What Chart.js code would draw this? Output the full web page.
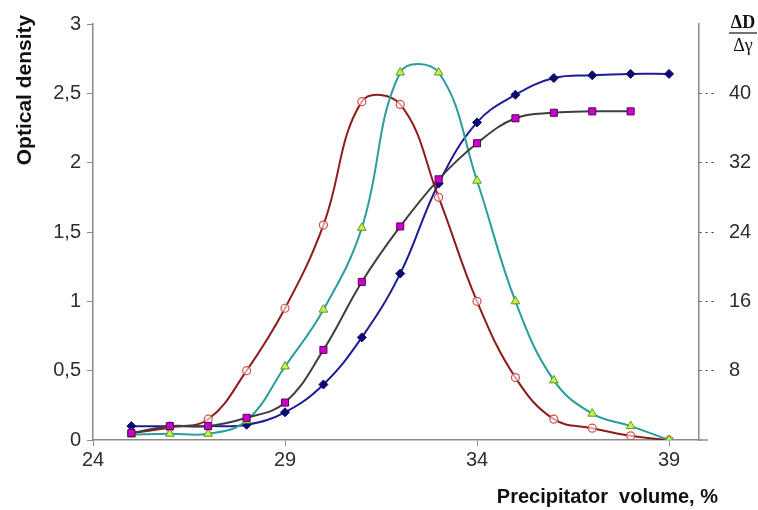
<!DOCTYPE html>
<html>
<head>
<meta charset="utf-8">
<script src="https://cdn.jsdelivr.net/npm/chart.js@4.4.1/dist/chart.umd.min.js"></script>
<style>
html,body{margin:0;padding:0;background:#fff;}
#wrap{width:758px;height:510px;position:relative;}
</style>
</head>
<body>
<div id="wrap"><canvas id="c" width="758" height="510"></canvas></div>
<script>
// Precipitator volume, %
const volumes = [25, 26, 27, 28, 29, 30, 31, 32, 33, 34, 35, 36, 37, 38, 39];
// Optical density series
const blueDiamond = [0.10, 0.10, 0.10, 0.11, 0.20, 0.40, 0.74, 1.20, 1.85, 2.29, 2.49, 2.61, 2.63, 2.64, 2.64];
const magentaSquare = [0.05, 0.10, 0.10, 0.16, 0.27, 0.65, 1.14, 1.54, 1.88, 2.14, 2.32, 2.36, 2.37, 2.37, null];
const redCircle = [0.05, 0.09, 0.15, 0.50, 0.95, 1.55, 2.44, 2.42, 1.75, 1.00, 0.45, 0.15, 0.085, 0.03, 0.00];
const greenTriangle = [0.04, 0.045, 0.045, 0.14, 0.53, 0.94, 1.53, 2.65, 2.65, 1.87, 1.00, 0.43, 0.19, 0.10, 0.00];
// Tick labels
const xTicks = [24, 29, 34, 39];
const yTickValues = [0, 0.5, 1, 1.5, 2, 2.5, 3];
const yTickLabels = ['0', '0,5', '1', '1,5', '2', '2,5', '3'];
const y2TickValues = [8, 16, 24, 32, 40];
const y2TickLabels = ['8', '16', '24', '32', '40'];
// Texts
const xTitle = 'Precipitator  volume, %';
const yTitle = 'Optical density';

const toPts = arr => volumes.map((v, i) => ({x: v, y: arr[i]})).filter(p => p.y !== null);

const axisColor = '#8a8a8a';
const tickFont = {family: 'Liberation Sans, Arial, sans-serif', size: 20};
const textColor = '#2e2e2e';

const extras = {
  id: 'extras',
  afterDraw(chart) {
    const ctx = chart.ctx;
    const a = chart.chartArea;
    ctx.save();
    // extension of x axis line beyond right axis
    ctx.strokeStyle = axisColor;
    ctx.lineWidth = 1.5;
    ctx.beginPath();
    ctx.moveTo(a.right, a.bottom);
    ctx.lineTo(a.right + 9, a.bottom);
    ctx.stroke();
    // axis titles
    ctx.fillStyle = '#111';
    ctx.font = 'bold 20px "Liberation Sans", Arial, sans-serif';
    ctx.textAlign = 'right';
    ctx.textBaseline = 'alphabetic';
    ctx.fillText(xTitle, 718, 503);
    ctx.save();
    ctx.translate(31, 90);
    ctx.rotate(-Math.PI / 2);
    ctx.textAlign = 'center';
    ctx.font = 'bold 21px "Liberation Sans", Arial, sans-serif';
    ctx.fillText(yTitle, 0, 0);
    ctx.restore();
    // right axis title ΔD / Δγ
    ctx.fillStyle = '#111';
    ctx.textAlign = 'center';
    ctx.font = 'bold 18px "Liberation Serif", "DejaVu Serif", serif';
    ctx.fillText('\u0394D', 743, 28);
    ctx.font = '18px "Liberation Serif", "DejaVu Serif", serif';
    ctx.fillText('\u0394\u03b3', 743, 51);
    ctx.strokeStyle = '#111';
    ctx.lineWidth = 1.2;
    ctx.beginPath();
    ctx.moveTo(729, 33);
    ctx.lineTo(757, 33);
    ctx.stroke();
    ctx.restore();
  }
};

new Chart(document.getElementById('c'), {
  type: 'line',
  data: {
    datasets: [
      {
        label: 'magenta', data: toPts(magentaSquare), order: 0,
        borderColor: '#3f3f3f', borderWidth: 2,
        pointStyle: 'rect', pointRadius: 5, pointBackgroundColor: '#cc00cc',
        pointBorderColor: '#5a005a', pointBorderWidth: 1, tension: 0.4
      },
      {
        label: 'green', data: toPts(greenTriangle), order: 1,
        borderColor: '#2a9d9d', borderWidth: 2,
        pointStyle: 'triangle', pointRadius: 5, pointBackgroundColor: '#c8ec5a',
        pointBorderColor: '#5c9e10', pointBorderWidth: 1, tension: 0.4
      },
      {
        label: 'red', data: toPts(redCircle), order: 2,
        borderColor: '#8e1c1c', borderWidth: 2,
        pointStyle: 'circle', pointRadius: 4, pointBackgroundColor: 'rgba(255,255,255,0.6)',
        pointBorderColor: '#d0504a', pointBorderWidth: 1.2, tension: 0.4
      },
      {
        label: 'blue', data: toPts(blueDiamond), order: 3,
        borderColor: '#1c1c96', borderWidth: 2,
        pointStyle: 'rectRot', pointRadius: 4.5, pointBackgroundColor: '#0a0a70',
        pointBorderColor: '#0a0a70', pointBorderWidth: 1, tension: 0.4
      }
    ]
  },
  options: {
    responsive: false,
    animation: false,
    events: [],
    layout: {padding: {top: 24, left: 0, right: 0, bottom: 0}},
    plugins: {legend: {display: false}, tooltip: {enabled: false}},
    scales: {
      x: {
        type: 'linear', min: 24, max: 39.78,
        afterBuildTicks: s => { s.ticks = xTicks.map(v => ({value: v})); },
        afterFit: s => { s.height = 70; },
        border: {display: true, color: axisColor, width: 1.5},
        grid: {display: true, drawOnChartArea: false, drawTicks: true, tickLength: 6, color: axisColor},
        ticks: {font: tickFont, color: textColor, padding: 2, maxRotation: 0, autoSkip: false}
      },
      y: {
        type: 'linear', position: 'left', min: 0, max: 3,
        afterBuildTicks: s => { s.ticks = yTickValues.map(v => ({value: v})); },
        afterFit: s => { s.width = 93; },
        border: {display: true, color: axisColor, width: 1.5},
        grid: {display: true, drawOnChartArea: false, drawTicks: true, tickLength: 6, color: axisColor},
        ticks: {font: tickFont, color: textColor, padding: 6,
          callback: (v) => { const i = yTickValues.indexOf(v); return i >= 0 ? yTickLabels[i] : ''; }}
      },
      y2: {
        type: 'linear', position: 'right', min: 0, max: 48,
        afterBuildTicks: s => { s.ticks = y2TickValues.map(v => ({value: v})); },
        afterFit: s => { s.width = 59; },
        border: {display: true, color: axisColor, width: 1.5},
        grid: {display: true, drawOnChartArea: false, drawTicks: true, tickLength: 18,
          tickColor: '#333', tickBorderDash: [2, 4], tickWidth: 1.2},
        ticks: {font: tickFont, color: textColor, padding: 12,
          callback: (v) => { const i = y2TickValues.indexOf(v); return i >= 0 ? y2TickLabels[i] : ''; }}
      }
    }
  },
  plugins: [extras]
});
</script>
</body>
</html>
